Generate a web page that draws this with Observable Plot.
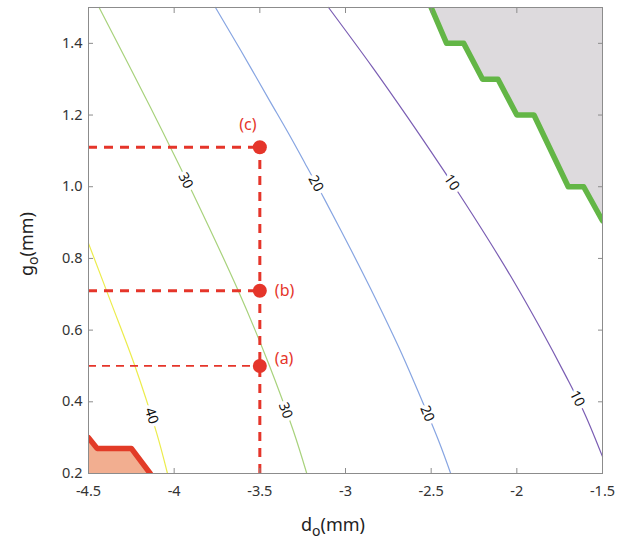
<!DOCTYPE html>
<html><head><meta charset="utf-8">
<script src="https://cdn.jsdelivr.net/npm/d3@7"></script>
<script src="https://cdn.jsdelivr.net/npm/@observablehq/plot@0.6"></script>
<style>body{margin:0;background:#fff} svg{display:block}</style>
</head><body><div id="chart"></div>
<script>
// ---- data ----
const xTicks = [-4.5, -4, -3.5, -3, -2.5, -2, -1.5];
const yTicks = [0.2, 0.4, 0.6, 0.8, 1.0, 1.2, 1.4];

// contour lines, [d_o, g_o]
const contour10 = [[-3.099,1.5],[-2.842,1.333],[-2.632,1.190],[-2.446,1.059],[-2.342,0.984],[-2.163,0.850],[-2.014,0.733],[-1.868,0.610],[-1.715,0.473],[-1.604,0.367],[-1.5,0.247]];
const contour20 = [[-3.759,1.5],[-3.611,1.380],[-3.444,1.241],[-3.333,1.149],[-3.236,1.065],[-3.119,0.962],[-2.966,0.822],[-2.828,0.691],[-2.689,0.552],[-2.596,0.451],[-2.457,0.292],[-2.386,0.2]];
const contour30 = [[-4.438,1.5],[-4.138,1.221],[-4.021,1.109],[-3.893,0.984],[-3.627,0.711],[-3.449,0.507],[-3.305,0.320],[-3.226,0.2]];
const contour40 = [[-4.5,0.842],[-4.366,0.674],[-4.232,0.504],[-4.103,0.314],[-4.039,0.2]];

// contour label positions
const contourLabels = [
  {level: 40, d: -4.132, g: 0.361},
  {level: 30, d: -3.934, g: 1.017},
  {level: 30, d: -3.350, g: 0.376},
  {level: 20, d: -3.173, g: 1.009},
  {level: 20, d: -2.523, g: 0.367},
  {level: 10, d: -2.380, g: 1.012},
  {level: 10, d: -1.648, g: 0.409}
];

// feasibility boundaries
const upperBoundary = [
  {d:-2.5,g:1.5},{d:-2.41,g:1.4},{d:-2.31,g:1.4},{d:-2.2,g:1.3},{d:-2.11,g:1.3},
  {d:-2.0,g:1.2},{d:-1.9,g:1.2},{d:-1.7,g:1.0},{d:-1.61,g:1.0},{d:-1.5,g:0.905}
];
const lowerBoundary = [
  {d:-4.5,g:0.30},{d:-4.45,g:0.27},{d:-4.25,g:0.27},{d:-4.14,g:0.2}
];

// design points
const refPoints = [
  {label: "(a)", d: -3.5, g: 0.50},
  {label: "(b)", d: -3.5, g: 0.71},
  {label: "(c)", d: -3.5, g: 1.11}
];

// ---- layout ----
const W = 624, H = 540;
const mL = 88, mR = 22, mT = 7, mB = 67;
const xDomain = [-4.5, -1.5], yDomain = [0.2, 1.5];
const sx = (W - mL - mR) / (xDomain[1] - xDomain[0]);
const sy = (H - mT - mB) / (yDomain[1] - yDomain[0]);

const contours = [
  {level: 10, color: "#7a5db3", pts: contour10},
  {level: 20, color: "#87a5e2", pts: contour20},
  {level: 30, color: "#a8d27c", pts: contour30},
  {level: 40, color: "#ecec4c", pts: contour40}
];

function angleAt(pts, d, g) {
  let best = null, bd = Infinity;
  for (let i = 0; i < pts.length - 1; i++) {
    const [x1, y1] = pts[i], [x2, y2] = pts[i + 1];
    const dist = Math.hypot(((x1 + x2) / 2 - d) * sx, ((y1 + y2) / 2 - g) * sy);
    if (dist < bd) { bd = dist; best = [x1, y1, x2, y2]; }
  }
  const [x1, y1, x2, y2] = best;
  let a = Math.atan2(-(y2 - y1) * sy, (x2 - x1) * sx) * 180 / Math.PI;
  if (a > 90) a -= 180;
  if (a <= -90) a += 180;
  return a;
}
const byLevel = Object.fromEntries(contours.map(c => [c.level, c.pts]));

const RED = "#e5352a";
const pick = l => refPoints.filter(p => p.label === l);

const chart = Plot.plot({
  width: W, height: H,
  marginLeft: mL, marginRight: mR, marginTop: mT, marginBottom: mB,
  x: {domain: xDomain},
  y: {domain: yDomain},
  style: {fontFamily: "'Noto Sans', sans-serif", background: "white", overflow: "visible"},
  marks: [
    Plot.areaY(upperBoundary, {x: "d", y1: "g", y2: yDomain[1], fill: "#dddadd"}),
    Plot.areaY(lowerBoundary, {x: "d", y1: yDomain[0], y2: "g", fill: "#f2ae90"}),
    ...contours.map(c => Plot.line(c.pts, {stroke: c.color, strokeWidth: 1.2, curve: "catmull-rom"})),
    Plot.text(contourLabels, {
      x: "d", y: "g", text: d => String(d.level),
      rotate: d => angleAt(byLevel[d.level], d.d, d.g),
      fill: "#111", stroke: "white", strokeWidth: 7, fontSize: 14
    }),
    Plot.line(upperBoundary, {x: "d", y: "g", stroke: "#63b646", strokeWidth: 5.5, strokeLinejoin: "round", clip: true}),
    Plot.line(lowerBoundary, {x: "d", y: "g", stroke: "#e23b27", strokeWidth: 5.5, strokeLinejoin: "round", clip: true}),
    // dashed guides
    Plot.ruleY(pick("(a)"), {y: "g", x1: xDomain[0], x2: "d", stroke: RED, strokeWidth: 1.7, strokeDasharray: "8,6"}),
    Plot.ruleY(refPoints.filter(p => p.label !== "(a)"), {y: "g", x1: xDomain[0], x2: "d", stroke: RED, strokeWidth: 3, strokeDasharray: "9,7"}),
    Plot.ruleX(pick("(c)"), {x: "d", y1: yDomain[0], y2: "g", stroke: RED, strokeWidth: 3, strokeDasharray: "9,7"}),
    Plot.dot(refPoints, {x: "d", y: "g", r: 7, fill: RED, stroke: "none"}),
    Plot.text(pick("(c)"), {x: "d", y: "g", text: "label", dx: -12, dy: -22, fill: RED, fontSize: 16}),
    Plot.text(pick("(b)"), {x: "d", y: "g", text: "label", dx: 15, dy: 0, textAnchor: "start", fill: RED, fontSize: 16}),
    Plot.text(pick("(a)"), {x: "d", y: "g", text: "label", dx: 15, dy: -7, textAnchor: "start", fill: RED, fontSize: 16}),
    Plot.frame({stroke: "#8c8c8c"}),
    Plot.axisX(xTicks, {anchor: "bottom", tickSize: -5, tickPadding: 17, tickFormat: d => String(d), label: null, stroke: "#8c8c8c", fill: "#333", fontSize: 14.5}),
    Plot.axisX(xTicks, {anchor: "top", tickSize: -5, tickFormat: () => "", label: null, stroke: "#8c8c8c"}),
    Plot.axisY(yTicks, {anchor: "left", tickSize: -5, tickPadding: 11, tickFormat: d => d.toFixed(1), label: null, stroke: "#8c8c8c", fill: "#333", fontSize: 14.5}),
    Plot.axisY(yTicks, {anchor: "right", tickSize: -5, tickFormat: () => "", label: null, stroke: "#8c8c8c"})
  ]
});
document.getElementById("chart").appendChild(chart);

// axis titles with subscripts
const svg = d3.select(chart);
const yl = svg.append("text")
  .attr("transform", `translate(33,${(mT + H - mB) / 2 + 4}) rotate(-90)`)
  .attr("text-anchor", "middle").attr("font-size", 18).attr("fill", "#222")
  .attr("font-family", "'Noto Sans', sans-serif");
yl.append("tspan").text("g");
yl.append("tspan").attr("dy", 5).attr("font-size", 14).text("o");
yl.append("tspan").attr("dy", -5).text("(mm)");

const xl = svg.append("text")
  .attr("transform", `translate(${(mL + W - mR) / 2 - 12},531)`)
  .attr("text-anchor", "middle").attr("font-size", 18).attr("fill", "#222")
  .attr("font-family", "'Noto Sans', sans-serif");
xl.append("tspan").text("d");
xl.append("tspan").attr("dy", 5).attr("font-size", 14).text("o");
xl.append("tspan").attr("dy", -5).text("(mm)");
</script>
</body></html>
